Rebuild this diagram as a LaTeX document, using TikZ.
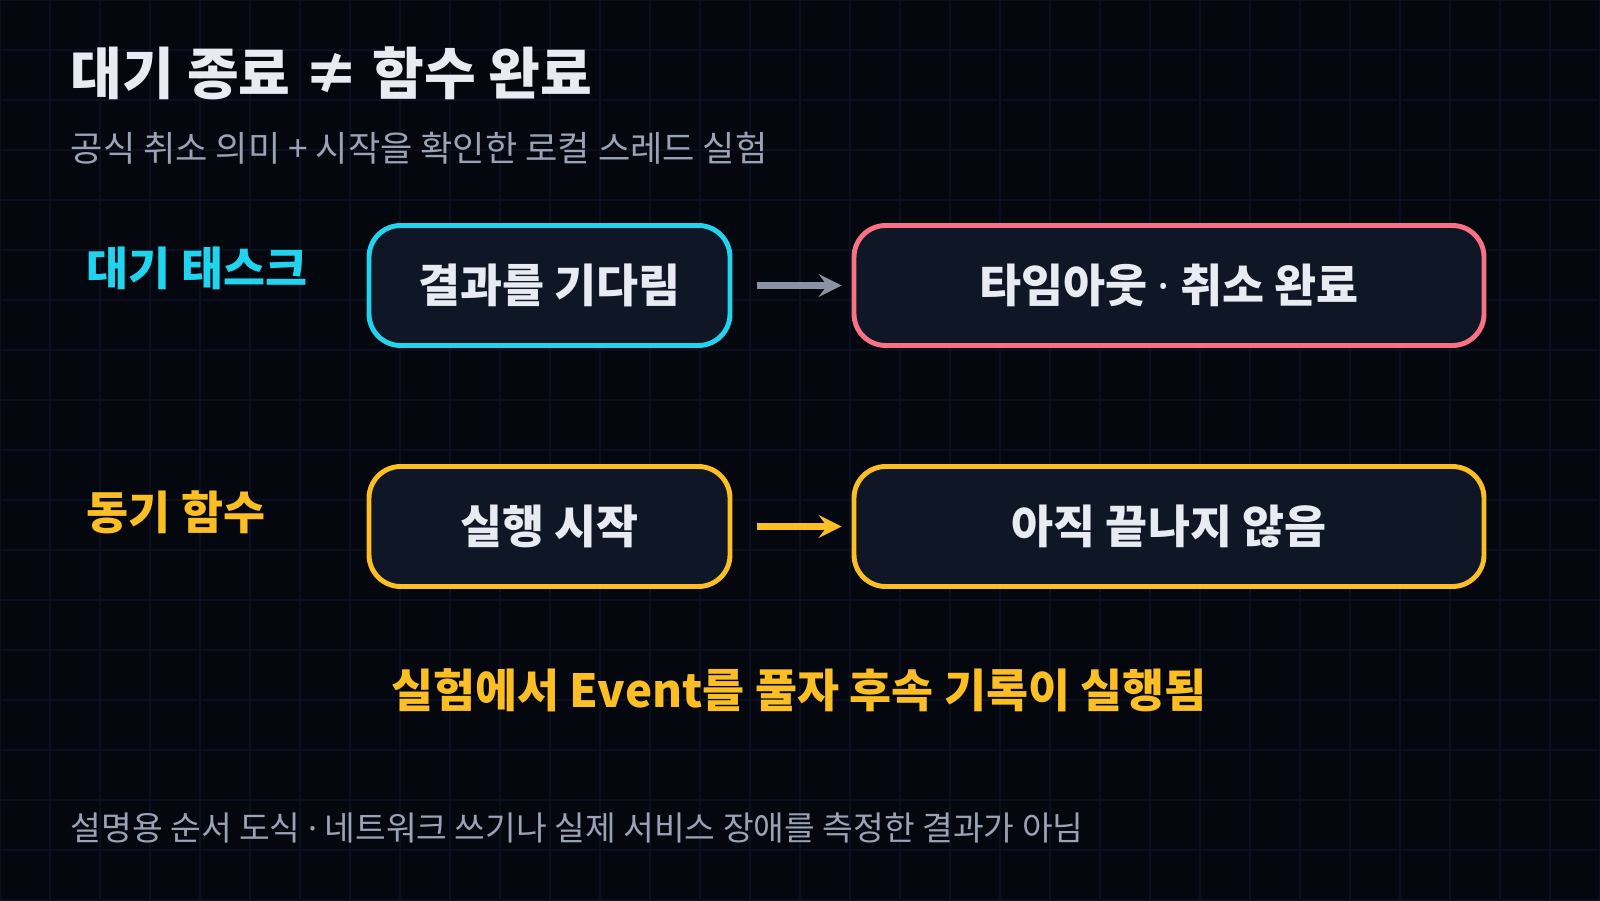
\documentclass[tikz,border=0pt]{standalone}
\usepackage{fontspec}
\setmainfont{Noto Sans CJK KR}
\newfontfamily\dotfont{Noto Sans}
\newcommand{\mdot}{{\dotfont ·}}
\usetikzlibrary{positioning}
\definecolor{bg}{HTML}{05070F}
\definecolor{gridc}{HTML}{0B1020}
\definecolor{boxfill}{HTML}{0F1626}
\definecolor{waitc}{HTML}{22D3EE}
\definecolor{donec}{HTML}{F87185}
\definecolor{syncc}{HTML}{FBBF24}
\definecolor{subc}{HTML}{9AA3B5}
\definecolor{arrc}{HTML}{8A93A6}
\definecolor{txtc}{HTML}{E8EBF2}
\tikzset{
  step box/.style={draw, line width=1.4pt, rounded corners=9pt, fill=boxfill, text=txtc,
    minimum height=1.2cm, font=\fontsize{13}{16}\selectfont\bfseries},
  row label/.style={anchor=west, inner sep=0pt, font=\fontsize{13}{16}\selectfont\bfseries},
  flow/.style={->, line width=1.8pt, >=stealth, shorten <=0.25cm, shorten >=0.1cm}
}
\begin{document}
\begin{tikzpicture}
\fill[bg] (0,0) rectangle (16,9);
\useasboundingbox (0,0) rectangle (16,9);
\draw[gridc, line width=0.4pt] (0,0) grid[step=0.5] (16,9);

\node (title) at (0.7,8.27) [anchor=west, inner sep=0pt, text=txtc, font=\fontsize{16}{19}\selectfont\bfseries] {대기 종료 ≠ 함수 완료};
\node (sub) at (0.7,7.52) [anchor=west, inner sep=0pt, text=subc, font=\fontsize{10}{12}\selectfont] {공식 취소 의미 + 시작을 확인한 로컬 스레드 실험};

\node (waitlbl) at (0.86,6.32) [row label, text=waitc] {대기 태스크};
\node (synclbl) at (0.86,3.88) [row label, text=syncc] {동기 함수};

\node (wait) at (5.495,6.145) [step box, draw=waitc, minimum width=3.61cm] {결과를 기다림};
\node (done) at (11.69,6.145) [step box, draw=donec, minimum width=6.3cm] {타임아웃 \mdot{} 취소 완료};
\node (start) at (5.495,3.735) [step box, draw=syncc, minimum width=3.61cm] {실행 시작};
\node (notyet) at (11.69,3.735) [step box, draw=syncc, minimum width=6.3cm] {아직 끝나지 않음};

\draw[flow, arrc] (wait) -- (done);
\draw[flow, syncc] (start) -- (notyet);

\node (note) at (7.99,2.1) [text=syncc, font=\fontsize{13}{16}\selectfont\bfseries] {실험에서 Event를 풀자 후속 기록이 실행됨};
\node (foot) at (0.7,0.72) [anchor=west, inner sep=0pt, text=subc, font=\fontsize{9.5}{12}\selectfont] {설명용 순서 도식 \mdot{} 네트워크 쓰기나 실제 서비스 장애를 측정한 결과가 아님};
\end{tikzpicture}
\end{document}
